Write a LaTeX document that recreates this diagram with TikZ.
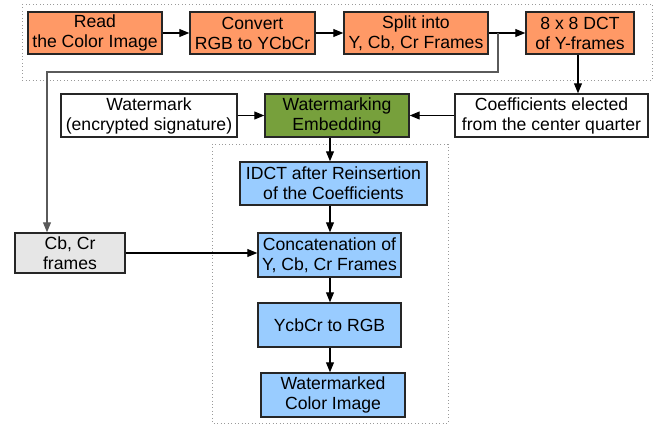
\documentclass[tikz,border=0pt]{standalone}
\usepackage{fontspec}
\setmainfont{Liberation Sans}
\usetikzlibrary{arrows.meta}
\definecolor{stageorange}{HTML}{FF9966}
\definecolor{stagegreen}{HTML}{77A03C}
\definecolor{stageblue}{HTML}{99CCFF}
\definecolor{stagegray}{HTML}{E6E6E6}
\definecolor{groupline}{HTML}{9A9A9A}
\definecolor{branchline}{HTML}{5A5A5A}
\newcommand\pxu{0.75pt}
\begin{document}
\begin{tikzpicture}[x=0.75pt,y=-0.75pt,
  font=\fontsize{13.2}{15}\selectfont,
  stagebox/.style={draw=black!85,line width=1.1pt,align=center,inner sep=0pt,
    minimum width=#1*\pxu},
  tall/.style={minimum height=42*\pxu},
  tall4/.style={minimum height=43*\pxu},
  tall5/.style={minimum height=44*\pxu},
  flow/.style={draw=black,line width=0.8pt,-{Triangle[length=7.5pt,width=6pt]}},
  group/.style={draw=groupline,line width=0.6pt,dotted}]
\useasboundingbox (0,0) rectangle (662,424);

% dotted groupings
\draw[group] (22,4) rectangle (652,80);
\draw[group] (212,144) rectangle (448,423);

% top row: colour image to DCT
\node[stagebox=134,tall,fill=stageorange] (read) at (95,33) {Read\\the Color Image};
\node[stagebox=125,tall,fill=stageorange] (convert) at (252.5,33) {Convert\\RGB to YCbCr};
\node[stagebox=144,tall,fill=stageorange] (split) at (416,33) {Split into\\Y, Cb, Cr Frames};
\node[stagebox=108,tall,fill=stageorange] (dct) at (580,33) {8 x 8 DCT\\of Y-frames};

% embedding row
\node[stagebox=176,tall4,fill=white] (mark) at (149,115.5) {Watermark\\(encrypted signature)};
\node[stagebox=144,tall4,fill=stagegreen] (embed) at (337,115.5) {Watermarking\\Embedding};
\node[stagebox=193,tall4,fill=white] (coeff) at (551.5,115.5) {Coefficients elected\\from the center quarter};

% reconstruction column
\node[stagebox=187,tall4,fill=stageblue] (idct) at (333.5,183.5) {IDCT after Reinsertion\\of the Coefficients};
\node[stagebox=143,tall5,fill=stageblue] (concat) at (329.5,255) {Concatenation of\\Y, Cb, Cr Frames};
\node[stagebox=110,minimum height=40*\pxu,fill=stagegray] (cbcr) at (70,253) {Cb, Cr\\frames};
\node[stagebox=143,tall5,fill=stageblue] (torgb) at (329.5,325) {YcbCr to RGB};
\node[stagebox=144,tall5,fill=stageblue] (result) at (333,395) {Watermarked\\Color Image};

% guide points for the connectors
\coordinate (axis) at (330,0);
\coordinate (fork) at (498,33);
\coordinate (bend) at (47,72);
\coordinate (dctx) at (578,0);

\draw[flow] (read) -- (convert);
\draw[flow] (convert) -- (split);
\draw[flow] (split) -- (dct);
\draw[flow,draw=branchline] (fork) |- (bend) -- (bend |- cbcr.north);
\draw[flow] (dct.south -| dctx) -- (coeff.north -| dctx);
\draw[flow] (mark) -- (embed);
\draw[flow] (coeff) -- (embed);
\draw[flow] (embed.south -| axis) -- (idct.north -| axis);
\draw[flow] (idct.south -| axis) -- (concat.north -| axis);
\draw[flow] (cbcr.east) -- (cbcr.east -| concat.west);
\draw[flow] (concat.south -| axis) -- (torgb.north -| axis);
\draw[flow] (torgb.south -| axis) -- (result.north -| axis);
\end{tikzpicture}
\end{document}
